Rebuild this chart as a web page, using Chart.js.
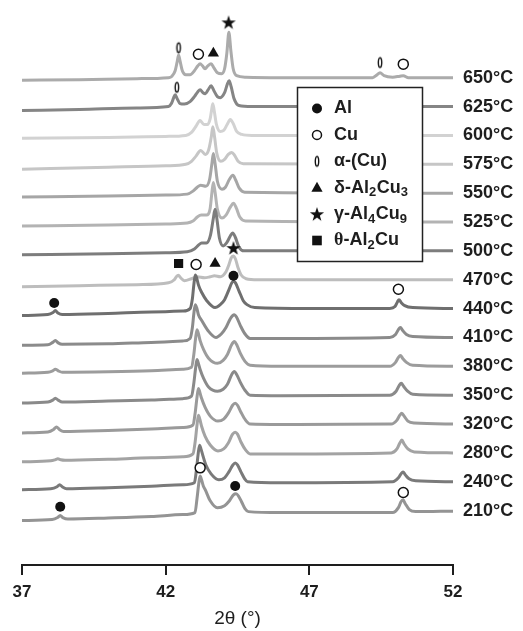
<!DOCTYPE html>
<html>
<head>
<meta charset="utf-8">
<script src="https://cdn.jsdelivr.net/npm/chart.js@4.4.1/dist/chart.umd.min.js"></script>
<style>
  html, body { margin: 0; padding: 0; background: #fff; }
</style>
</head>
<body>
<canvas id="xrdChart" width="523" height="631"></canvas>
<script>
// temperatures, top trace first
const temps = ['650°C', '625°C', '600°C', '575°C', '550°C', '525°C', '500°C', '470°C',
               '440°C', '410°C', '380°C', '350°C', '320°C', '280°C', '240°C', '210°C'];
const xTicks = [37, 42, 47, 52];

// [2theta, intensity above the trace baseline]
const p650 = [[37,-2.5],[39,-2],[41,-1],[42.1,0],[42.22,1.5],[42.33,7],[42.4,16],[42.45,23],[42.5,17],[42.58,7],[42.7,3],[42.85,3],[43.0,7],[43.12,12],[43.2,14],[43.28,12],[43.37,9],[43.47,12],[43.58,14],[43.68,10],[43.8,5],[43.95,4],[44.05,9],[44.13,25],[44.2,46],[44.27,27],[44.35,9],[44.47,2],[44.8,0.5],[46,0],[49.2,0],[49.36,3],[49.46,5],[49.6,2],[49.9,0.5],[50.15,1.5],[50.27,2],[50.45,0],[52,0]];
const p625 = [[37,-4],[39,-3],[41,-1.5],[42.1,0],[42.2,3],[42.28,9],[42.33,12],[42.4,8],[42.5,3],[42.65,2.5],[42.85,5],[43.0,10],[43.12,15],[43.2,17],[43.3,14],[43.38,13],[43.48,17],[43.58,21],[43.68,16],[43.8,10],[43.9,9],[44.05,14],[44.15,23],[44.21,26],[44.28,20],[44.38,8],[44.55,1],[45,0],[52,0]];
const p600 = [[37,-3],[40,-2],[42,-1],[42.7,0],[42.9,3],[43.05,9],[43.2,15],[43.33,11],[43.45,11],[43.55,17],[43.6,26],[43.64,32],[43.69,25],[43.76,12],[43.9,4],[44.02,5],[44.14,11],[44.25,16],[44.35,12],[44.47,4],[44.65,1],[45,0],[52,0]];
const p575 = [[37,-5],[40,-3],[42,-1.5],[42.7,0],[42.9,3],[43.05,8],[43.22,14],[43.38,10],[43.5,15],[43.59,28],[43.64,38],[43.7,28],[43.78,11],[43.92,3],[44.05,5],[44.18,10],[44.3,12],[44.4,9],[44.52,3],[44.7,0.5],[52,0]];
const p550 = [[37,-4],[40,-3],[42,-2],[42.75,-1],[42.95,2],[43.1,6],[43.22,8],[43.4,7],[43.53,14],[43.61,30],[43.66,40],[43.72,30],[43.8,12],[43.96,4],[44.08,6],[44.22,14],[44.34,18],[44.44,13],[44.56,5],[44.75,1],[52,0]];
const p525 = [[37,-4],[40,-3],[42,-2],[42.75,-1],[42.95,1],[43.1,5],[43.24,7],[43.42,7],[43.55,14],[43.61,30],[43.66,40],[43.72,30],[43.8,13],[43.96,4],[44.1,7],[44.25,15],[44.36,19],[44.46,14],[44.58,5],[44.78,1],[52,0]];
const p500 = [[37,-4],[40,-3],[42,-2],[42.75,-1],[43.0,2],[43.15,6],[43.25,8],[43.42,8],[43.56,16],[43.66,33],[43.72,42],[43.78,33],[43.87,13],[44.0,5],[44.12,8],[44.25,15],[44.33,18],[44.42,14],[44.55,4],[44.72,0],[52,0]];
const p470 = [[37,-7],[39,-6],[41,-5],[42.1,-3],[42.3,0],[42.37,3],[42.44,4.5],[42.52,2],[42.65,-1],[42.9,1],[43.1,3],[43.35,2],[43.55,3],[43.7,4],[43.9,3],[44.1,8],[44.2,15],[44.28,22],[44.35,24],[44.43,21],[44.52,12],[44.62,5],[44.8,1],[45.2,0],[52,0]];
const p440 = [[37,-7],[37.9,-6],[38.08,-4],[38.16,-2],[38.25,-4.5],[38.4,-6],[40,-5],[41.5,-3.5],[42.6,-2.5],[42.85,0],[42.93,10],[42.98,24],[43.03,34],[43.08,31],[43.14,24],[43.26,16],[43.43,8],[43.72,1],[43.9,4],[44.05,9],[44.2,19],[44.3,26],[44.36,28],[44.43,26],[44.55,18],[44.7,8],[44.83,4],[45.1,1],[47,0],[49.8,0],[49.98,2],[50.07,7],[50.12,9],[50.2,6],[50.32,3],[50.6,1],[52,0]];
const p410 = [[37,-8],[37.9,-7.5],[38.07,-5],[38.16,-3],[38.26,-5.5],[38.4,-7],[40,-6.5],[41.5,-5],[42.6,-3.5],[42.85,-1],[42.93,10],[42.98,24],[43.03,33],[43.08,30],[43.14,23],[43.26,17],[43.47,7],[43.75,0],[43.95,4],[44.1,10],[44.25,19],[44.33,22],[44.39,23],[44.46,21],[44.6,12],[44.75,4],[44.94,-1],[46,-1],[49.8,0],[50.0,3],[50.1,8],[50.17,10],[50.25,7],[50.38,3],[50.6,1],[52,0]];
const p380 = [[37,-7],[37.9,-6],[38.07,-4.5],[38.16,-3],[38.26,-4.5],[38.4,-6],[40,-5.5],[41.5,-4.5],[42.6,-3],[42.9,-1],[42.98,12],[43.04,28],[43.09,37],[43.14,33],[43.2,26],[43.32,17],[43.5,8],[43.8,3],[44.0,6],[44.15,12],[44.3,22],[44.39,25],[44.47,22],[44.6,13],[44.76,5],[44.94,1],[46,0],[49.8,0],[50.0,4],[50.1,9],[50.17,11],[50.25,8],[50.38,4],[50.6,1],[52,0]];
const p350 = [[37,-8],[37.9,-7],[38.07,-5],[38.16,-3],[38.26,-5],[38.4,-7],[40,-6],[41.5,-5],[42.6,-3.5],[42.9,-1],[42.98,12],[43.04,27],[43.09,36],[43.14,32],[43.2,26],[43.32,17],[43.5,8],[43.8,4],[44.0,6],[44.15,11],[44.3,21],[44.39,24],[44.47,21],[44.6,13],[44.76,5],[44.94,0],[46,-0.5],[49.8,0],[50.02,4],[50.13,10],[50.2,12],[50.28,9],[50.42,4],[50.6,1],[52,0]];
const p320 = [[37,-9],[37.9,-8],[38.1,-5.5],[38.2,-3],[38.3,-5.5],[38.45,-7.5],[40,-6.5],[41.5,-5],[42.6,-3.5],[42.95,-1],[43.03,12],[43.09,27],[43.14,36],[43.19,32],[43.25,26],[43.37,17],[43.55,8],[43.82,3],[44.02,5],[44.18,11],[44.33,19],[44.42,21],[44.5,19],[44.62,12],[44.78,4],[44.94,0],[46,-0.5],[49.85,0],[50.05,4],[50.15,9],[50.22,11],[50.3,8],[50.43,3],[50.65,1],[52,0]];
const p280 = [[37,-9],[38,-8],[38.15,-7],[38.25,-6],[38.35,-7],[38.5,-7.5],[40,-6.5],[41.5,-5],[42.6,-4],[42.95,-1],[43.03,12],[43.09,28],[43.14,38],[43.19,34],[43.25,27],[43.37,17],[43.55,8],[43.82,2],[44.02,4],[44.18,10],[44.33,19],[44.42,21],[44.5,19],[44.62,11],[44.78,3],[44.94,-1],[46,-1],[49.85,0],[50.05,4],[50.15,10],[50.22,13],[50.3,9],[50.43,4],[50.65,1],[52,0]];
const p240 = [[37,-8],[38,-7],[38.22,-5],[38.31,-3],[38.4,-5],[38.55,-7],[40,-6],[41.5,-4.5],[42.6,-3],[43.0,-1],[43.07,12],[43.13,28],[43.18,37],[43.23,33],[43.29,27],[43.4,17],[43.58,8],[43.85,2],[44.05,4],[44.2,10],[44.34,17],[44.42,19],[44.5,17],[44.62,10],[44.75,3],[44.85,0],[46,-1],[49.9,0],[50.1,4],[50.19,8],[50.26,10],[50.34,7],[50.47,3],[50.7,1],[52,0]];
const p210 = [[37,-10],[38.05,-9],[38.24,-7],[38.33,-5],[38.42,-7],[38.6,-8.5],[40,-7.5],[41.5,-6],[42.6,-4],[43.02,-2],[43.09,12],[43.15,27],[43.2,35],[43.25,31],[43.31,25],[43.38,21],[43.55,10],[43.8,3],[44.05,5],[44.22,10],[44.36,16],[44.45,17],[44.53,15],[44.64,9],[44.76,2],[44.88,-1],[46,-2],[49.9,-2],[50.1,3],[50.19,9],[50.26,11],[50.34,7],[50.48,1],[50.7,-1],[52,-0.5]];

// phase markers: [2theta, height on the same stacked scale]
const alMarks    = [[38.12, 265], [44.36, 292.7], [38.33, 59], [44.42, 80]];
const cuMarks    = [[43.14, 516.7], [50.27, 506.7], [43.06, 304], [50.1, 279], [43.2, 98.3], [50.27, 73.3]];
const alphaMarks = [[42.45, 523.3], [49.46, 508.3], [42.39, 483.3]];
const deltaMarks = [[43.66, 517.7], [43.72, 305]];
const gammaMarks = [[44.19, 549], [44.36, 320.7]];
const thetaMarks = [[42.45, 305]];

const phaseLabels = [
  [['Al', 0]],
  [['Cu', 0]],
  [['α-(Cu)', 0]],
  [['δ-Al', 0], ['2', 1], ['Cu', 0], ['3', 1]],
  [['γ-Al', 0], ['4', 1], ['Cu', 0], ['9', 1]],
  [['θ', 2], ['-Al', 0], ['2', 1], ['Cu', 0]]
];

const patterns = [p650, p625, p600, p575, p550, p525, p500, p470,
                  p440, p410, p380, p350, p320, p280, p240, p210];
const lineColors = ['#ababab', '#858585', '#d2d2d2', '#c6c6c6', '#a6a6a6', '#b3b3b3', '#7d7d7d', '#bdbdbd',
                    '#6f6f6f', '#8b8b8b', '#9c9c9c', '#8a8a8a', '#9a9a9a', '#a3a3a3', '#7a7a7a', '#949494'];

// stacking
const step = 29.2;
const topBase = 493;
const offsets = temps.map((t, i) => topBase - step * i);

const sans = 'Arial, "Liberation Sans", Helvetica, sans-serif';
const ink = '#1e1e1e';

function makeStar() {
    const c = document.createElement('canvas');
    c.width = 16; c.height = 16;
    const g = c.getContext('2d');
    g.fillStyle = '#111';
    g.beginPath();
    for (let k = 0; k < 10; k++) {
        const r = k % 2 ? 3.0 : 7.5;
        const a = -Math.PI / 2 + k * Math.PI / 5;
        g.lineTo(8 + r * Math.cos(a), 8.6 + r * Math.sin(a));
    }
    g.closePath();
    g.fill();
    return c;
}

function makeOval() {
    const c = document.createElement('canvas');
    c.width = 8; c.height = 14;
    const g = c.getContext('2d');
    g.fillStyle = '#fff';
    g.strokeStyle = '#111';
    g.lineWidth = 1.4;
    g.beginPath();
    g.ellipse(4, 7, 1.7, 4.8, 0, 0, Math.PI * 2);
    g.fill();
    g.stroke();
    return c;
}

const starImg = makeStar();
const ovalImg = makeOval();

const toXY = arr => arr.map(p => ({ x: p[0], y: p[1] }));

const traceSets = patterns.map((pts, i) => ({
    label: temps[i],
    data: pts.map(p => ({ x: p[0], y: offsets[i] + p[1] })),
    borderColor: lineColors[i],
    borderWidth: 3,
    pointRadius: 0,
    cubicInterpolationMode: 'monotone',
    fill: false,
    order: 100 - i
}));

const markSets = [
    { data: toXY(alMarks), pointStyle: 'circle', pointRadius: 5, pointBackgroundColor: '#111', pointBorderColor: '#111', pointBorderWidth: 0 },
    { data: toXY(cuMarks), pointStyle: 'circle', pointRadius: 5, pointBackgroundColor: '#fff', pointBorderColor: '#111', pointBorderWidth: 1.5 },
    { data: toXY(alphaMarks), pointStyle: ovalImg },
    { data: toXY(deltaMarks), pointStyle: 'triangle', pointRadius: 6.5, pointBackgroundColor: '#111', pointBorderColor: '#111', pointBorderWidth: 0 },
    { data: toXY(gammaMarks), pointStyle: starImg },
    { data: toXY(thetaMarks), pointStyle: 'rect', pointRadius: 6.5, pointBackgroundColor: '#111', pointBorderColor: '#111', pointBorderWidth: 0 }
].map(d => Object.assign({ showLine: false, order: 0, label: '' }, d));

function drawRich(ctx, parts, x, y) {
    ctx.textBaseline = 'middle';
    ctx.textAlign = 'left';
    parts.forEach(([txt, kind]) => {
        if (kind === 1) {
            ctx.font = 'bold 13px ' + sans;
            ctx.fillText(txt, x, y + 5);
        } else if (kind === 2) {
            ctx.font = 'bold 18px "Liberation Serif", "Times New Roman", serif';
            ctx.fillText(txt, x, y);
        } else {
            ctx.font = 'bold 18px ' + sans;
            ctx.fillText(txt, x, y);
        }
        x += ctx.measureText(txt).width + (kind === 1 ? 0.5 : 0);
    });
}

function drawKeyMark(ctx, i, x, y) {
    ctx.fillStyle = '#111';
    ctx.strokeStyle = '#111';
    ctx.beginPath();
    if (i === 0) {
        ctx.arc(x, y, 5, 0, Math.PI * 2);
        ctx.fill();
    } else if (i === 1) {
        ctx.fillStyle = '#fff';
        ctx.lineWidth = 1.5;
        ctx.arc(x, y, 4.5, 0, Math.PI * 2);
        ctx.fill();
        ctx.stroke();
    } else if (i === 2) {
        ctx.drawImage(ovalImg, x - 4, y - 7);
    } else if (i === 3) {
        ctx.moveTo(x, y - 6);
        ctx.lineTo(x + 5.6, y + 4);
        ctx.lineTo(x - 5.6, y + 4);
        ctx.closePath();
        ctx.fill();
    } else if (i === 4) {
        ctx.drawImage(starImg, x - 8, y - 8);
    } else {
        ctx.fillRect(x - 4.8, y - 4.8, 9.6, 9.6);
    }
}

const phaseKey = {
    id: 'phaseKey',
    afterDatasetsDraw(chart) {
        const ctx = chart.ctx;
        ctx.save();
        ctx.fillStyle = '#fff';
        ctx.fillRect(297.5, 87.5, 125, 174);
        ctx.strokeStyle = '#222';
        ctx.lineWidth = 1.5;
        ctx.strokeRect(297.5, 87.5, 125, 174);
        phaseLabels.forEach((parts, i) => {
            const y = 108.5 + i * 26.4;
            drawKeyMark(ctx, i, 317, y);
            ctx.fillStyle = ink;
            drawRich(ctx, parts, 334, y);
        });
        ctx.restore();
    }
};

new Chart(document.getElementById('xrdChart'), {
    type: 'line',
    data: { datasets: markSets.concat(traceSets) },
    options: {
        responsive: false,
        animation: false,
        events: [],
        layout: { padding: { left: 22, right: 0, top: 0, bottom: 0 } },
        plugins: { legend: { display: false }, tooltip: { enabled: false } },
        scales: {
            x: {
                type: 'linear',
                min: 37,
                max: 52,
                afterBuildTicks: s => { s.ticks = xTicks.map(v => ({ value: v })); },
                afterFit: s => { s.height = 66; },
                border: { display: true, color: ink, width: 2 },
                grid: { drawOnChartArea: false, drawTicks: true, tickLength: 10, color: ink, lineWidth: 2 },
                ticks: { color: ink, padding: 7, font: { family: sans, size: 17, weight: 'bold' }, maxRotation: 0 },
                title: { display: true, text: '2θ (°)', color: ink, padding: { top: 0, bottom: 1 }, font: { family: sans, size: 19 } }
            },
            y: {
                type: 'linear',
                position: 'right',
                min: 0,
                max: 565,
                afterBuildTicks: s => { s.ticks = offsets.map(v => ({ value: v })); },
                afterFit: s => { s.width = 70; s.paddingTop = 0; s.paddingBottom = 0; },
                border: { display: false },
                grid: { display: false, drawTicks: false },
                ticks: {
                    autoSkip: false,
                    padding: 10,
                    color: ink,
                    font: { family: sans, size: 18, weight: 'bold' },
                    callback: (v, i) => temps[i]
                }
            }
        }
    },
    plugins: [phaseKey]
});
</script>
</body>
</html>
